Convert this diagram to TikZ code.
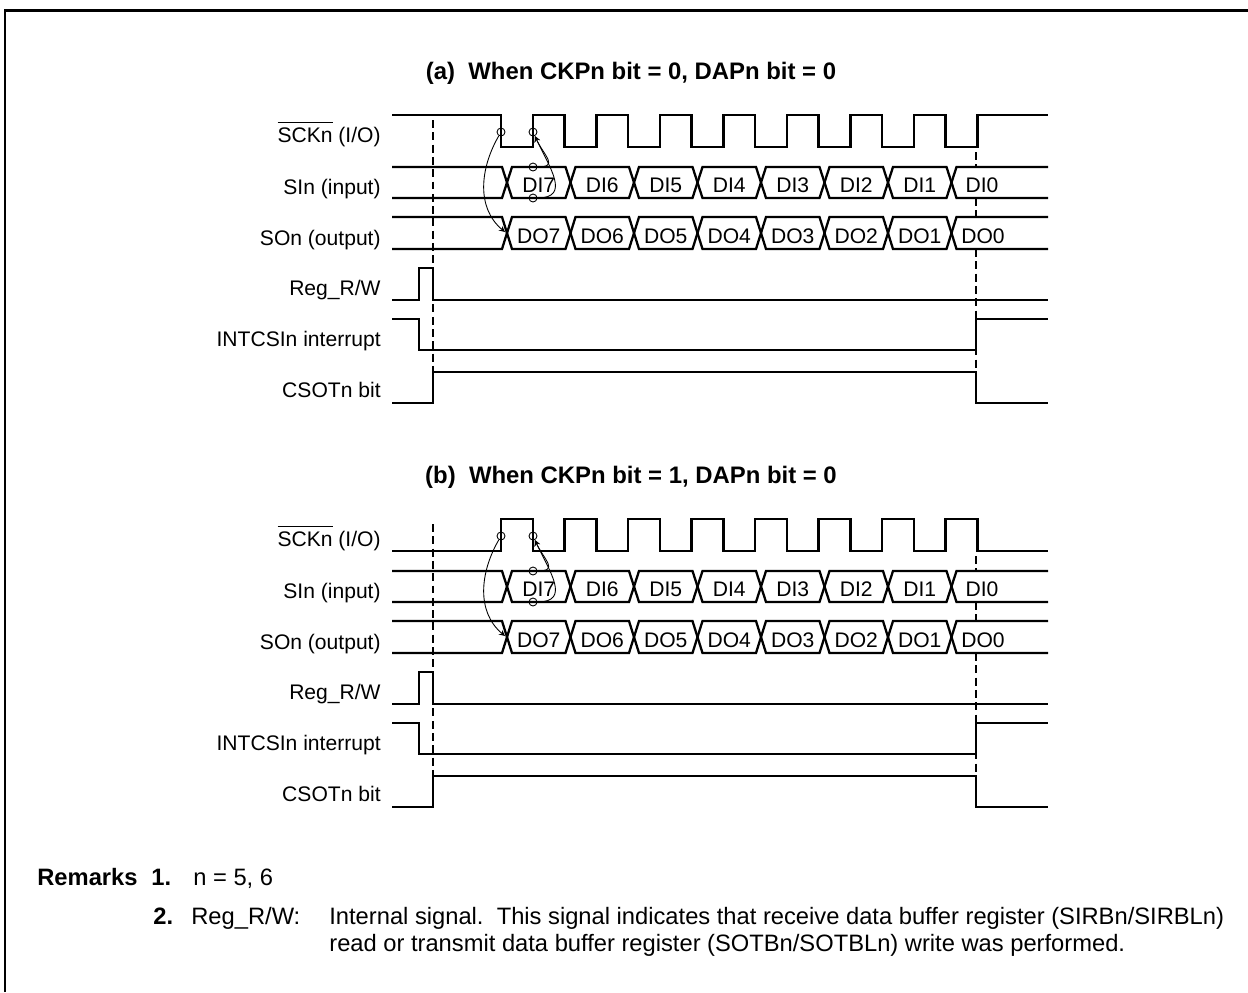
\documentclass[tikz,border=0pt]{standalone}
\usepackage{fontspec}
\setmainfont{Liberation Sans}

\begin{document}
\begin{tikzpicture}[x=0.02cm,y=-0.02cm,>=stealth,
  sig/.style={line width=1.3pt},
  guide/.style={line width=0.8pt,dash pattern=on 4.5pt off 2.5pt},
  ring/.style={circle,draw,line width=0.5pt,minimum size=0.16cm,inner sep=0pt},
  lbl/.style={anchor=base east,inner sep=0pt,font=\fontsize{12}{14}\selectfont},
  dat/.style={anchor=base,inner sep=0pt,font=\fontsize{12}{14}\selectfont},
  ttl/.style={anchor=base,inner sep=0pt,font=\fontsize{13.6}{16}\selectfont\bfseries},
  rem/.style={anchor=base west,inner sep=0pt,font=\fontsize{13.5}{16}\selectfont}]

  \useasboundingbox (0,0) rectangle (1248,992);

  % Cornice
  \draw[line width=1.7pt] (5,992) -- (5,10) -- (1248,10);

  % Pannelli (a) e (b)
  \foreach \p/\dy/\s/\q/\t in {a/0/115/147/0, b/404/147/115/1} {
  \begin{scope}[yshift=-\dy*0.02cm]
    \node[ttl] (title\p) at (631,79) {(\p)\ \ When CKPn bit = \t, DAPn bit = 0};

    % Etichette
    \node[lbl] (lsck\p) at (381,142) {$\overline{\mbox{SCKn\strut}}$ (I/O)};
    \node[lbl] (lsi\p)  at (381,194) {SIn (input)};
    \node[lbl] (lso\p)  at (381,245) {SOn (output)};
    \node[lbl] (lreg\p) at (381,295) {Reg\_R/W};
    \node[lbl] (lint\p) at (381,346) {INTCSIn interrupt};
    \node[lbl] (lcso\p) at (381,397) {CSOTn bit};

    % Linee tratteggiate
    \draw[guide] (433,120) -- (433,403);
    \draw[guide] (976,152) -- (976,167) (976,198) -- (976,217) (976,249) -- (976,372);

    % Clock
    \draw[sig] (392,\s) foreach \k in {0,...,7} {
      -- ({501+63.5*\k},\s) -- ({501+63.5*\k},\q)
      -- ({533+63.5*\k},\q) -- ({533+63.5*\k},\s)} -- (1048,\s);

    % Dati SIn / SOn
    \draw[sig] (392,167) -- (502,167) -- (507,182.5) -- (502,198) -- (392,198);
    \draw[sig] (392,217) -- (502,217) -- (507,233) -- (502,249) -- (392,249);
    \foreach \k [evaluate=\k as \c using 507+63.5*\k,
                 evaluate=\k as \n using int(7-\k)] in {0,...,6} {
      \draw[sig] (\c,182.5) -- ({\c+5},167) -- ({\c+58.5},167)
        -- ({\c+63.5},182.5) -- ({\c+58.5},198) -- ({\c+5},198) -- cycle;
      \draw[sig] (\c,233) -- ({\c+5},217) -- ({\c+58.5},217)
        -- ({\c+63.5},233) -- ({\c+58.5},249) -- ({\c+5},249) -- cycle;
      \node[dat] (di\n\p) at ({\c+31.75},192) {DI\n};
      \node[dat] (do\n\p) at ({\c+31.75},243) {DO\n};
    }
    \draw[sig] (1048,167) -- (956.5,167) -- (951.5,182.5) -- (956.5,198) -- (1048,198);
    \draw[sig] (1048,217) -- (956.5,217) -- (951.5,233) -- (956.5,249) -- (1048,249);
    \node[dat] (di0\p) at (982,192) {DI0};
    \node[dat] (do0\p) at (983,243) {DO0};

    % Reg_R/W, INTCSIn, CSOTn
    \draw[sig] (392,300) -- (419,300) -- (419,268) -- (433,268) -- (433,300) -- (1048,300);
    \draw[sig] (392,319) -- (419,319) -- (419,350) -- (976,350) -- (976,319) -- (1048,319);
    \draw[sig] (392,403) -- (433,403) -- (433,372) -- (976,372) -- (976,403) -- (1048,403);

    % Fronti e frecce
    \node[ring] (ea\p) at (501,132) {};
    \node[ring] (eb\p) at (533,132) {};
    \node[ring] (sa\p) at (533,167) {};
    \node[ring] (sb\p) at (533,198) {};
    \coordinate (cx\p) at (505,232);
    \draw[->,line width=0.5pt] (ea\p) to[out=240,in=140] (cx\p);
    \draw[->,line width=0.5pt] (sa\p) to[out=0,in=-65,looseness=1.8] (eb\p);
    \draw[->,line width=0.5pt] (sb\p) to[out=0,in=-65,looseness=1.4] (eb\p);
  \end{scope}
  }

  % Note
  \node[rem] (remarks) at (37,885) {\textbf{Remarks}};
  \node[rem] (num1) at (151,885) {\textbf{1.}};
  \node[rem] (rem1) at (193,885) {n = 5, 6};
  \node[rem] (num2) at (153,924) {\textbf{2.}};
  \node[rem] (regrw) at (191,924) {Reg\_R/W:};
  \node[rem] (rem2) at (329,924) {Internal signal.\ \ This signal indicates that receive data buffer register (SIRBn/SIRBLn)};
  \node[rem] (rem3) at (329,951) {read or transmit data buffer register (SOTBn/SOTBLn) write was performed.};

\end{tikzpicture}
\end{document}
